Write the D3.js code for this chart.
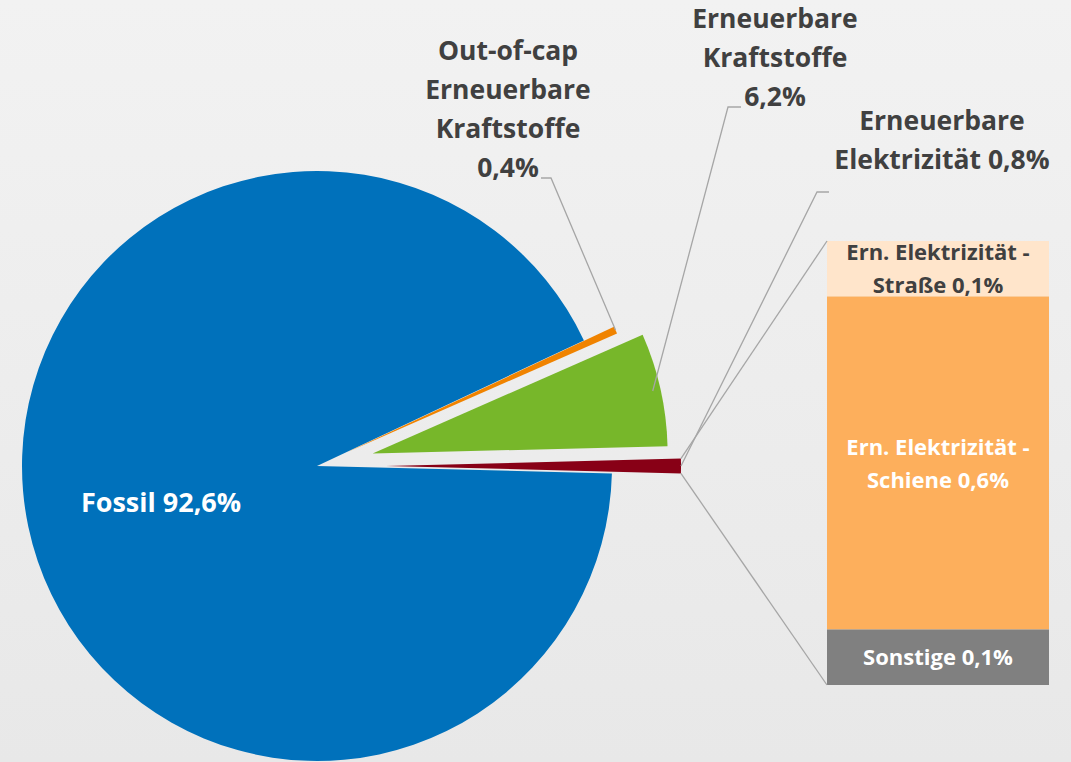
<!DOCTYPE html>
<html>
<head>
<meta charset="utf-8">
<script src="https://cdn.jsdelivr.net/npm/d3@7"></script>
<style>
  html, body { margin: 0; padding: 0; }
  body { width: 1071px; height: 762px; overflow: hidden; }
  svg text { font-family: 'Open Sans', sans-serif; font-weight: bold; }
</style>
</head>
<body>
<div id="chart"></div>
<script>
// Pie data (the last slice is split up in the bar)
const pieNames = ["Fossil", "Out-of-cap Erneuerbare Kraftstoffe", "Erneuerbare Kraftstoffe", "Erneuerbare Elektrizität"];
const pieValues = [92.6, 0.4, 6.2, 0.8];
const pieLabels = [
    ["Fossil 92,6%"],
    ["Out-of-cap", "Erneuerbare", "Kraftstoffe", "0,4%"],
    ["Erneuerbare", "Kraftstoffe", "6,2%"],
    ["Erneuerbare", "Elektrizität 0,8%"]
];
const pieColors = ["#0071bb", "#f08300", "#77b72a", "#880016"];

// Bar data (top to bottom)
const barNames = ["Ern. Elektrizität - Straße", "Ern. Elektrizität - Schiene", "Sonstige"];
const barValues = [0.1, 0.6, 0.1];
const barLabels = [
    ["Ern. Elektrizität -", "Straße 0,1%"],
    ["Ern. Elektrizität -", "Schiene 0,6%"],
    ["Sonstige 0,1%"]
];
const barColors = ["#ffe5cb", "#fdaf5c", "#808080"];
const barTextColors = ["#404040", "#ffffff", "#ffffff"];

const width = 1071, height = 762;
const cx = 317, cy = 466, radius = 295;
const explode = [0, 33, 57, 69];

const svg = d3.select("#chart")
    .append("svg")
    .attr("width", width)
    .attr("height", height);

// background gradient
const grad = svg.append("defs").append("linearGradient")
    .attr("id", "bg").attr("x1", 0).attr("y1", 0).attr("x2", 0).attr("y2", 1);
grad.append("stop").attr("offset", "0%").attr("stop-color", "#f2f2f2");
grad.append("stop").attr("offset", "100%").attr("stop-color", "#e8e8e8");
svg.append("rect").attr("width", width).attr("height", height).attr("fill", "url(#bg)");

// the "other" slice is centred on the right horizontal
const total = d3.sum(pieValues);
const otherShare = pieValues[pieValues.length - 1] / total;
const start = Math.PI / 2 + otherShare * Math.PI;

const pie = d3.pie().sort(null).startAngle(start).endAngle(start + 2 * Math.PI);
const arcs = pie(pieValues);
const arc = d3.arc().innerRadius(0).outerRadius(radius);

// offset of each exploded slice
function sliceOffset(d, i) {
    const a = (d.startAngle + d.endAngle) / 2;
    return [explode[i] * Math.sin(a), -explode[i] * Math.cos(a)];
}
// point on the slice at angle a and distance r from its tip
function slicePoint(d, i, a, r) {
    const o = sliceOffset(d, i);
    return [cx + o[0] + r * Math.sin(a), cy + o[1] - r * Math.cos(a)];
}

const pieG = svg.append("g").attr("class", "pie");
pieG.selectAll("path")
    .data(arcs)
    .enter().append("path")
    .attr("d", arc)
    .attr("fill", (d, i) => pieColors[i])
    .attr("transform", (d, i) => {
        const o = sliceOffset(d, i);
        return `translate(${cx + o[0]},${cy + o[1]})`;
    });

// bar of the split slice
const barX0 = 827, barX1 = 1049, barTop = 241, barBottom = 685;
const y = d3.scaleLinear().domain([0, d3.sum(barValues)]).range([barTop, barBottom]);
const cum = d3.cumsum(barValues);
const barData = barValues.map((v, i) => ({ y0: cum[i] - v, y1: cum[i], i: i }));

const barG = svg.append("g").attr("class", "bar");
barG.selectAll("rect")
    .data(barData)
    .enter().append("rect")
    .attr("x", barX0)
    .attr("width", barX1 - barX0)
    .attr("y", d => y(d.y0))
    .attr("height", d => y(d.y1) - y(d.y0))
    .attr("fill", d => barColors[d.i]);

// connector lines from the red slice to the bar
const other = arcs[arcs.length - 1];
const oi = arcs.length - 1;
const pTop = slicePoint(other, oi, other.startAngle, radius);
const pBot = slicePoint(other, oi, other.endAngle, radius);
svg.append("line")
    .attr("x1", pTop[0]).attr("y1", pTop[1])
    .attr("x2", barX0).attr("y2", y(0))
    .attr("stroke", "#a6a6a6").attr("stroke-width", 1.3);
svg.append("line")
    .attr("x1", pBot[0]).attr("y1", pBot[1])
    .attr("x2", barX0).attr("y2", y(d3.sum(barValues)))
    .attr("stroke", "#a6a6a6").attr("stroke-width", 1.3);

// label layout: centre x, first line y, leader elbow
const labelLayout = [
    { x: 161, y: 512, size: 27 },
    { x: 508, y: 60, size: 26.5, elbow: [551, 178], end: [541, 178], r: radius },
    { x: 775, y: 28, size: 26.5, elbow: [728, 107], end: [741, 107], r: radius - 8 },
    { x: 942, y: 130, size: 26.5, elbow: [817, 192], end: [829, 192], r: radius }
];
const lineStep = 39;

// leader lines
arcs.forEach((d, i) => {
    const l = labelLayout[i];
    if (!l.elbow) return;
    const p = slicePoint(d, i, (d.startAngle + d.endAngle) / 2, l.r);
    svg.append("polyline")
        .attr("points", [p, l.elbow, l.end].map(q => q.join(",")).join(" "))
        .attr("fill", "none")
        .attr("stroke", "#a6a6a6")
        .attr("stroke-width", 1.3);
});

// pie labels
arcs.forEach((d, i) => {
    const l = labelLayout[i];
    const t = svg.append("text")
        .attr("text-anchor", "middle")
        .attr("font-size", l.size + "px")
        .attr("fill", i === 0 ? "#ffffff" : "#404040");
    pieLabels[i].forEach((line, k) => {
        t.append("tspan")
            .attr("x", l.x)
            .attr("y", l.y + k * lineStep)
            .text(line);
    });
});

// bar labels
barData.forEach(d => {
    const lines = barLabels[d.i];
    const mid = (y(d.y0) + y(d.y1)) / 2;
    const step = 33;
    const t = svg.append("text")
        .attr("text-anchor", "middle")
        .attr("font-size", "22px")
        .attr("fill", barTextColors[d.i]);
    lines.forEach((line, k) => {
        t.append("tspan")
            .attr("x", (barX0 + barX1) / 2)
            .attr("y", mid + 8 + (k - (lines.length - 1) / 2) * step)
            .text(line);
    });
});
</script>
</body>
</html>
